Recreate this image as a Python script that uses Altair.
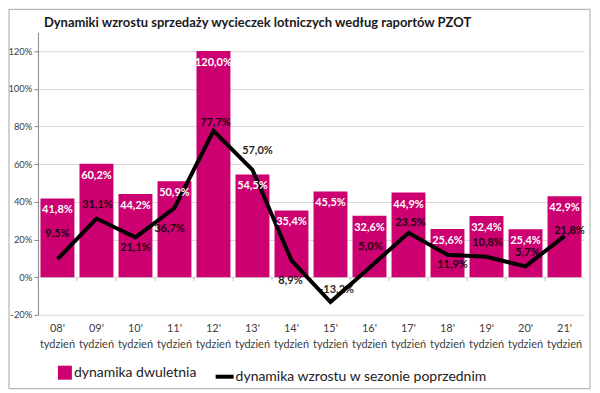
import altair as alt
import pandas as pd

weeks = ["08'", "09'", "10'", "11'", "12'", "13'", "14'", "15'", "16'", "17'", "18'", "19'", "20'", "21'"]
dwuletnia = [41.8, 60.2, 44.2, 50.9, 120.0, 54.5, 35.4, 45.5, 32.6, 44.9, 25.6, 32.4, 25.4, 42.9]
wzrost = [9.5, 31.1, 21.1, 36.7, 77.7, 57.0, 8.9, -13.2, 5.0, 23.5, 11.9, 10.8, 5.7, 21.8]
week_word = "tydzień"
series_names = ["dynamika dwuletnia", "dynamika wzrostu w sezonie poprzednim"]
title_text = "Dynamiki wzrostu sprzedaży wycieczek lotniczych według raportów PZOT"
y_ticks = [-20, 0, 20, 40, 60, 80, 100, 120]

# manual placement of the line's data labels (pixel nudges, like Excel's hand-moved labels)
label_dx = [0, 1, 0, -5, 2, 5, -1, 5, 1, 2, 5, 1, 2, 5]
label_dy = [-25, -14, 11, 21, -8, -19, 21, -12, -21, -10, 10, -14, -13, -5]

BAR = "#CC0070"
FONT = "Lato"

df = pd.DataFrame({
    "week": [f"{w} {week_word}" for w in weeks],
    "dwu": dwuletnia,
    "wzr": wzrost,
})
df["s1"] = series_names[0]
df["s2"] = series_names[1]

xscale = alt.Scale(paddingInner=0.13, paddingOuter=0.065)
yscale = alt.Scale(domain=[-20, 130], nice=False)
xaxis = alt.Axis(labelAngle=0, labelExpr="split(datum.label, ' ')", domain=False, ticks=False,
                 labelFontSize=11, labelFont=FONT, labelColor="#404040", labelPadding=8,
                 labelLineHeight=16, grid=False, title=None)
yaxis = alt.Axis(values=y_ticks, labelExpr="datum.value + '%'", labelFontSize=9.5, labelFont=FONT,
                 labelColor="#404040", tickSize=4, tickColor="#868686", domainColor="#868686",
                 gridColor="#d9d9d9", labelPadding=2, title=None)


def X(**kw):
    return alt.X("week:N", sort=None, scale=xscale, axis=xaxis, **kw)


def Y(field):
    return alt.Y(field, scale=yscale, axis=yaxis)


base = alt.Chart(df)

bars = base.mark_bar().encode(
    x=X(),
    y=Y("dwu:Q"),
    fill=alt.Fill("s1:N", scale=alt.Scale(domain=[series_names[0]], range=[BAR]),
                  legend=alt.Legend(title=None, orient="none", legendX=20, legendY=334, symbolType="square",
                                    symbolSize=196, symbolStrokeWidth=0, labelFontSize=14, labelFont=FONT,
                                    labelColor="#222222", labelOffset=2, padding=0, labelLimit=400)),
)

border = alt.Chart(pd.DataFrame({"a": [0]})).mark_rect(fillOpacity=0, stroke="#a6a6a6", strokeWidth=1).encode(
    x=alt.value(-29), x2=alt.value(553), y=alt.value(-23), y2=alt.value(357)
)

zero_ticks = base.mark_rule(color="#bfbfbf", xOffset=-2.5).encode(
    x=X(bandPosition=0),
    y=alt.datum(0, scale=yscale, axis=yaxis), y2=alt.datum(-2),
)

line = base.mark_line(strokeWidth=4).encode(
    x=X(),
    y=Y("wzr:Q"),
    stroke=alt.Stroke("s2:N", scale=alt.Scale(domain=[series_names[1]], range=["#000000"]),
                      legend=alt.Legend(title=None, orient="none", legendX=176, legendY=334, symbolType="stroke",
                                        symbolSize=324, symbolStrokeWidth=4, labelFontSize=14, labelFont=FONT,
                                        labelColor="#222222", labelOffset=0, padding=0, labelLimit=400)),
)

bar_labels = base.transform_calculate(
    lab="replace(format(datum.dwu, '.1f'), '.', ',') + '%'"
).mark_text(color="white", fontWeight="bold", fontSize=11, font=FONT, baseline="middle", dy=12).encode(
    x=X(), y=Y("dwu:Q"), text="lab:N",
)

line_label_layers = []
for wk, dx, dy in zip(weeks, label_dx, label_dy):
    line_label_layers.append(
        base.transform_filter(alt.datum.week == f"{wk} {week_word}").transform_calculate(
            lab="replace(format(datum.wzr, '.1f'), '.', ',') + '%'"
        ).mark_text(color="#000000", opacity=0.85, fontWeight="bold", fontSize=11, font=FONT,
                    baseline="middle", dx=dx, dy=dy).encode(
            x=X(), y=Y("wzr:Q"), text="lab:N",
        )
    )

title = alt.Chart(pd.DataFrame({"t": [title_text]})).mark_text(
    fontSize=13, fontWeight="bold", font=FONT, color="#1a1a1a", align="center", baseline="middle"
).encode(text="t:N", x=alt.value(220), y=alt.value(-9))

chart = alt.layer(bars, border, zero_ticks, line, bar_labels, *line_label_layers, title).properties(
    width=547, height=283, autosize="none",
    padding={"left": 30, "top": 24, "right": 8, "bottom": 76},
).configure_view(stroke=None)

chart.save("out.html", embed_options={"renderer": "svg", "actions": False})
